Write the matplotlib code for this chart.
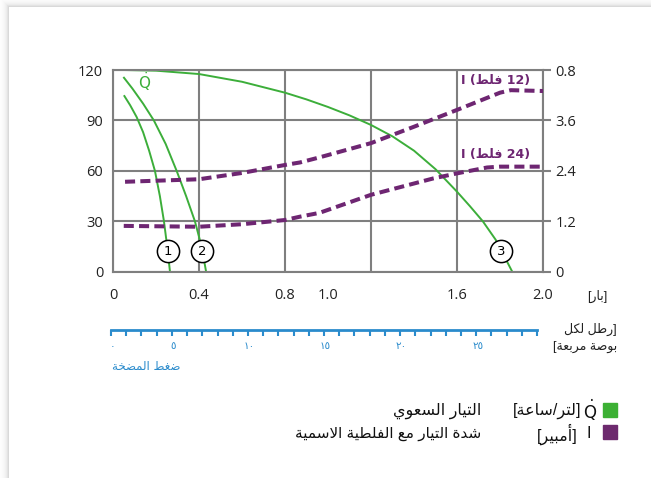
import numpy as np
import matplotlib
matplotlib.use('Agg')
import matplotlib.pyplot as plt
from matplotlib.patches import Rectangle

# ---- data ----
# main pump curve (bar, l/h)
q3_bar = [0.05, 0.2, 0.4, 0.6, 0.8, 0.9, 1.0, 1.1, 1.2, 1.3, 1.4, 1.5, 1.6, 1.66, 1.72, 1.78, 1.857]
q3_flow = [120, 119.6, 117.6, 113, 106.5, 102.5, 98, 93, 87.3, 80.5, 72, 61, 47.6, 39, 30, 19, 0]
# system curves 1 and 2
q1_bar = [0.053, 0.08, 0.11, 0.14, 0.168, 0.195, 0.218, 0.237, 0.252, 0.265]
q1_flow = [104.5, 99, 92, 83, 72, 60, 45, 30, 15, 0]
q2_bar = [0.051, 0.09, 0.14, 0.19, 0.245, 0.296, 0.34, 0.381, 0.412, 0.433]
q2_flow = [115.4, 109, 100, 90, 76, 60, 45, 30, 15, 0]
# current curves (bar, A)
i12_bar = [0.056, 0.4, 0.6, 0.8, 0.87, 0.96, 1.2, 1.4, 1.6, 1.8, 1.85, 2.0]
i12_amp = [2.14, 2.2, 2.35, 2.54, 2.6, 2.72, 3.06, 3.45, 3.85, 4.26, 4.32, 4.3]
i24_bar = [0.05, 0.4, 0.6, 0.8, 0.87, 0.96, 1.2, 1.49, 1.6, 1.74, 1.8, 2.0]
i24_amp = [1.09, 1.07, 1.13, 1.23, 1.31, 1.40, 1.83, 2.22, 2.34, 2.48, 2.5, 2.5]

x_grid = [0, 0.4, 0.8, 1.2, 1.6, 2.0]
x_labels = ['0', '0.4', '0.8', '1.0', '1.6', '2.0']
x_label_pos = [0, 0.4, 0.8, 1.0, 1.6, 2.0]
y_ticks = [0, 30, 60, 90, 120]
i_ticks = [0, 1.2, 2.4, 3.6, 4.8]
i_labels = ['0', '1.2', '2.4', '3.6', '0.8']
psi_vals = [0, 5, 10, 15, 20, 25]
psi_labels = ['٠', '٥', '١٠', '١٥', '٢٠', '٢٥']

GREEN = '#3cae3a'
PURPLE = '#6e2672'
BLUE = '#2a8bcc'
GRAY = '#7f7f7f'

# minimal arabic shaping (presentation forms, visual order)
FORMS = {
    'ا': (0xFE8D, 0xFE8E, None, None), 'أ': (0xFE83, 0xFE84, None, None),
    'ب': (0xFE8F, 0xFE90, 0xFE91, 0xFE92), 'ة': (0xFE93, 0xFE94, None, None),
    'ت': (0xFE95, 0xFE96, 0xFE97, 0xFE98), 'خ': (0xFEA5, 0xFEA6, 0xFEA7, 0xFEA8),
    'د': (0xFEA9, 0xFEAA, None, None), 'ر': (0xFEAD, 0xFEAE, None, None),
    'س': (0xFEB1, 0xFEB2, 0xFEB3, 0xFEB4), 'ش': (0xFEB5, 0xFEB6, 0xFEB7, 0xFEB8),
    'ص': (0xFEB9, 0xFEBA, 0xFEBB, 0xFEBC), 'ض': (0xFEBD, 0xFEBE, 0xFEBF, 0xFEC0),
    'ط': (0xFEC1, 0xFEC2, 0xFEC3, 0xFEC4), 'ع': (0xFEC9, 0xFECA, 0xFECB, 0xFECC),
    'غ': (0xFECD, 0xFECE, 0xFECF, 0xFED0), 'ف': (0xFED1, 0xFED2, 0xFED3, 0xFED4),
    'ك': (0xFED9, 0xFEDA, 0xFEDB, 0xFEDC), 'ل': (0xFEDD, 0xFEDE, 0xFEDF, 0xFEE0),
    'م': (0xFEE1, 0xFEE2, 0xFEE3, 0xFEE4), 'و': (0xFEED, 0xFEEE, None, None),
    'ي': (0xFEF1, 0xFEF2, 0xFEF3, 0xFEF4),
    'لا': (0xFEFB, 0xFEFC, None, None), 'لأ': (0xFEF7, 0xFEF8, None, None),
}


def ar(s):
    toks = []
    i = 0
    while i < len(s):
        if s[i] == 'ل' and i + 1 < len(s) and s[i + 1] in 'اأ':
            toks.append(s[i:i + 2])
            i += 2
        else:
            toks.append(s[i])
            i += 1
    out = []
    for k, t in enumerate(toks):
        if t not in FORMS:
            out.append(t)
            continue
        prev = toks[k - 1] if k > 0 else None
        nxt = toks[k + 1] if k + 1 < len(toks) else None
        jp = prev in FORMS and FORMS[prev][2] is not None
        jn = FORMS[t][2] is not None and nxt in FORMS
        f = FORMS[t]
        if jp and jn:
            c = f[3]
        elif jp:
            c = f[1]
        elif jn:
            c = f[2]
        else:
            c = f[0]
        out.append(chr(c))
    return ''.join(out[::-1])


plt.rcParams['font.family'] = ['Open Sans', 'DejaVu Sans']
plt.rcParams['mathtext.fontset'] = 'dejavusans'

W, H = 651, 478
fig = plt.figure(figsize=(W / 100, H / 100), dpi=100)

# card shadow along top and left edges
bg = fig.add_axes([0, 0, 1, 1], zorder=-10)
yy, xx = np.mgrid[0:H, 0:W]
dist = np.maximum(np.maximum(7 - yy, 9 - xx), 0)
shade = np.where(dist > 0, 1 - 0.15 * np.exp(-(dist - 1) / 3.0), 1.0)
bg.imshow(shade, cmap='gray', vmin=0, vmax=1, extent=[0, W, H, 0], aspect='auto')
bg.set_xlim(0, W)
bg.set_ylim(H, 0)
bg.axis('off')

ax = fig.add_axes([113 / W, 1 - 271.7 / H, 430 / W, 201.7 / H])
ax.set_xlim(0, 2.0)
ax.set_ylim(0, 120)
ax.xaxis.remove_overlapping_locs = False
ax.set_xticks(x_grid, labels=[''] * len(x_grid))
ax.set_xticks(x_label_pos, labels=x_labels, minor=True)
ax.set_yticks(y_ticks)
ax.grid(True, which='major', color=GRAY, lw=1.5)
for sp in ax.spines.values():
    sp.set_color(GRAY)
    sp.set_linewidth(1.5)
ax.tick_params(which='both', length=0)
ax.tick_params(axis='x', which='minor', pad=12, labelsize=10.5, labelcolor='#222222')
ax.tick_params(axis='y', pad=7, labelsize=10.5, labelcolor='#222222')

ax.plot(q3_bar, q3_flow, color=GREEN, lw=1.4)
ax.plot(q1_bar, q1_flow, color=GREEN, lw=1.4)
ax.plot(q2_bar, q2_flow, color=GREEN, lw=1.4)

ax2 = ax.twinx()
ax2.set_ylim(0, 4.8)
ax2.set_yticks(i_ticks, labels=i_labels)
ax2.tick_params(axis='y', length=6, width=1.5, color=GRAY, pad=3, labelsize=10.5,
                labelcolor='#222222')
for sp in ax2.spines.values():
    sp.set_visible(False)
ax2.plot(i12_bar, i12_amp, color=PURPLE, lw=2.9, ls=(0, (2.5, 1.3)), dash_capstyle='butt')
ax2.plot(i24_bar, i24_amp, color=PURPLE, lw=2.9, ls=(0, (2.5, 1.3)), dash_capstyle='butt')

# numbered circles at the foot of each curve
for n, (xs, ys) in enumerate([(q1_bar, q1_flow), (q2_bar, q2_flow), (q3_bar, q3_flow)], 1):
    xc = np.interp(12.5, ys[::-1], xs[::-1])
    ax.plot(xc, 12.5, 'o', ms=16, mfc='white', mec='black', mew=1.1, zorder=5)
    ax.text(xc, 12.3, str(n), ha='center', va='center', fontsize=9.5, zorder=6,
            family=['DejaVu Sans'])

ax.text(0.149, 113.4, r'$\dot{\mathrm{Q}}$', color=GREEN, fontsize=11, ha='center', va='center')
ax.text(1.94, 114, 'I (' + ar('فلط') + ' 12)', color=PURPLE, fontsize=9, fontweight='bold',
        ha='right', va='center', family=['DejaVu Sans'])
ax.text(1.94, 69.5, 'I (' + ar('فلط') + ' 24)', color=PURPLE, fontsize=9, fontweight='bold',
        ha='right', va='center', family=['DejaVu Sans'])

# psi scale
axp = fig.add_axes([111 / W, (H - 330) / H - 0.02, 426 / W, 0.02])
axp.set_xlim(0, 28)
axp.set_ylim(0, 1)
for k, sp in axp.spines.items():
    sp.set_visible(k == 'top')
axp.spines['top'].set_color(BLUE)
axp.spines['top'].set_linewidth(2)
axp.set_yticks([])
axp.set_xticks(np.arange(0, 29))
axp.set_xticks([v - 0.9 if v else 0.1 for v in psi_vals], labels=psi_labels, minor=True)
axp.tick_params(which='major', top=True, bottom=False, labelbottom=False, direction='in',
                length=4, width=1.5, color=BLUE)
axp.tick_params(which='minor', top=False, bottom=True, length=0, pad=1, labelsize=7.5,
                labelcolor=BLUE)
for t in axp.get_xticklabels(minor=True):
    t.set_family(['DejaVu Sans'])

fig.text(112 / W, 1 - 366 / H, ar('ضغط المضخة'), color=BLUE, fontsize=8.5, ha='left',
         va='center', family=['DejaVu Sans'])

# unit labels on the right
ufont = ['Liberation Sans', 'DejaVu Sans']
fig.text(597 / W, 1 - 296 / H, '[' + ar('بار') + ']', fontsize=9, ha='center', va='center',
         color='#222222', family=ufont)
fig.text(617 / W, 1 - 329 / H, ar('رطل لكل') + ']', fontsize=9, ha='right', va='center',
         color='#222222', family=ufont)
fig.text(617 / W, 1 - 347 / H, '[' + ar('بوصة مربعة'), fontsize=9, ha='right', va='center',
         color='#222222', family=ufont)

# legend
fig.add_artist(Rectangle((603 / W, 1 - 417 / H), 14 / W, 14 / H, color='#3cb034',
                         transform=fig.transFigure))
fig.add_artist(Rectangle((603 / W, 1 - 439 / H), 14 / W, 14 / H, color='#6d2a6e',
                         transform=fig.transFigure))
lfont = ['Liberation Sans', 'DejaVu Sans']
fig.text(590 / W, 1 - 410 / H, r'$\dot{\mathrm{Q}}$', fontsize=12, ha='center', va='center',
         color='#111111')
fig.text(581 / W, 1 - 411 / H, '[' + ar('ساعة') + '/' + ar('لتر') + ']', fontsize=11.5,
         ha='right', va='center', color='#111111', family=lfont)
fig.text(481 / W, 1 - 411 / H, ar('التيار السعوي'), fontsize=11.5, ha='right', va='center',
         color='#111111', family=lfont)
fig.text(589 / W, 1 - 434 / H, 'I', fontsize=11.5, ha='center', va='center',
         color='#111111', family=lfont)
fig.text(578 / W, 1 - 434 / H, '[' + ar('أمبير') + ']', fontsize=11.5, ha='right',
         va='center', color='#111111', family=lfont)
fig.text(481 / W, 1 - 434 / H, ar('شدة التيار مع الفلطية الاسمية'), fontsize=11,
         ha='right', va='center', color='#111111', family=lfont)

fig.savefig('out.png', dpi=100)
